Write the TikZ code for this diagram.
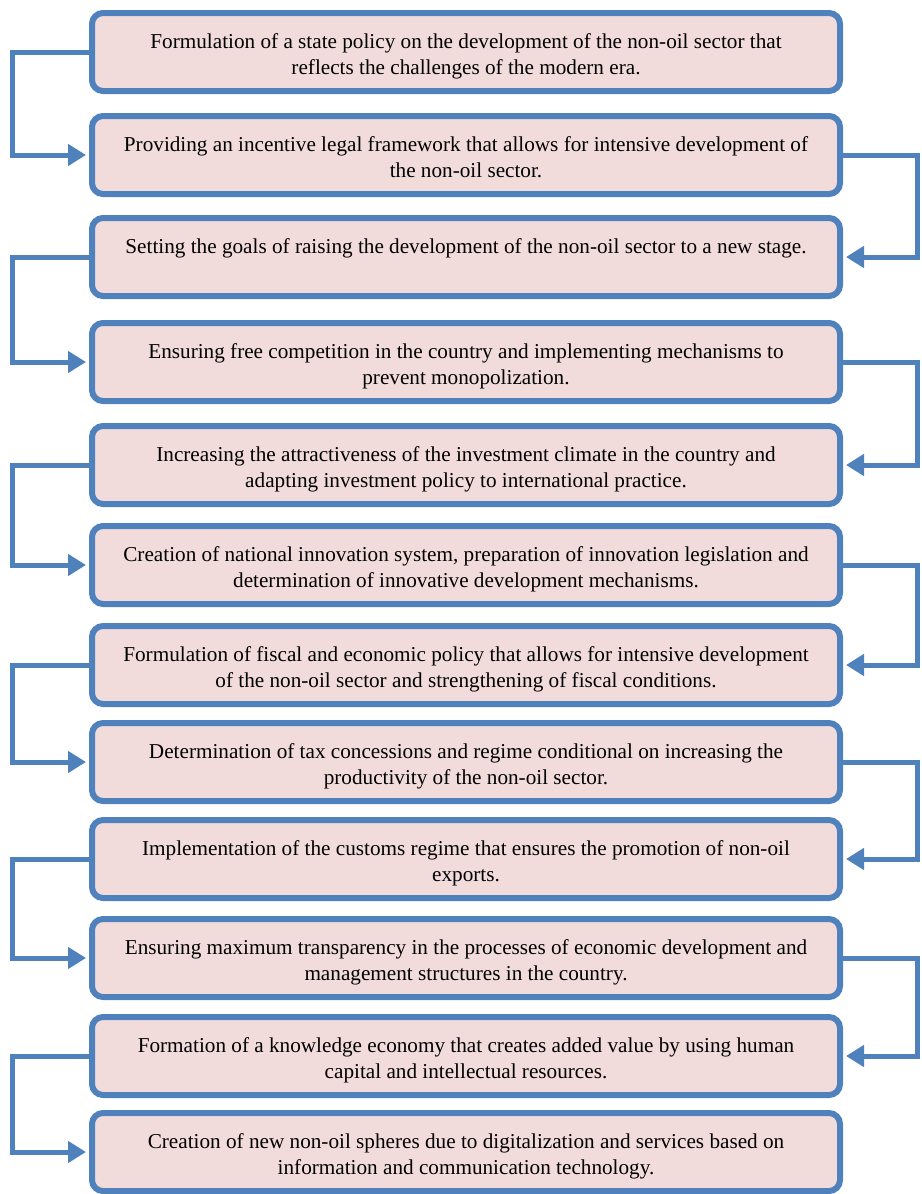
\documentclass[tikz,border=0pt]{standalone}
\usepackage{fontspec}
\setmainfont{Liberation Serif}
\usetikzlibrary{arrows.meta}

\definecolor{stageblue}{HTML}{4F81BD}
\definecolor{stagepink}{HTML}{F2DCDB}

\newcommand{\stagetext}[1]{\parbox[c][78pt][t]{740pt}{\centering
    \fontsize{21.2}{26}\selectfont\rule{0pt}{35pt}#1}}

\begin{document}
\begin{tikzpicture}[x=1pt,y=-1pt]
  \tikzset{stage/.style={draw=stageblue, fill=stagepink, line width=6pt,
      rounded corners=11pt, minimum width=748pt, minimum height=78pt,
      inner sep=0pt}}
  \tikzset{flow/.style={draw=stageblue, line width=5pt,
      -{Triangle[length=18pt,width=21pt]}, shorten >=3pt}}

  \useasboundingbox (0,0) rectangle (921,1194);
  \coordinate (railL) at (12.5,0);
  \coordinate (railR) at (917,0);

  \node[stage] (s1) at (466,52) {\stagetext{Formulation of a state policy on the development of the non-oil sector that\\ reflects the challenges of the modern era.}};
  \node[stage] (s2) at (466,155) {\stagetext{Providing an incentive legal framework that allows for intensive development of\\ the non-oil sector.}};
  \node[stage] (s3) at (466,257) {\stagetext{Setting the goals of raising the development of the non-oil sector to a new stage.}};
  \node[stage] (s4) at (466,362) {\stagetext{Ensuring free competition in the country and implementing mechanisms to\\ prevent monopolization.}};
  \node[stage] (s5) at (466,465) {\stagetext{Increasing the attractiveness of the investment climate in the country and\\ adapting investment policy to international practice.}};
  \node[stage] (s6) at (466,565) {\stagetext{Creation of national innovation system, preparation of innovation legislation and\\ determination of innovative development mechanisms.}};
  \node[stage] (s7) at (466,665) {\stagetext{Formulation of fiscal and economic policy that allows for intensive development\\ of the non-oil sector and strengthening of fiscal conditions.}};
  \node[stage] (s8) at (466,762) {\stagetext{Determination of tax concessions and regime conditional on increasing the\\ productivity of the non-oil sector.}};
  \node[stage] (s9) at (466,859) {\stagetext{Implementation of the customs regime that ensures the promotion of non-oil\\ exports.}};
  \node[stage] (s10) at (466,958) {\stagetext{Ensuring maximum transparency in the processes of economic development and\\ management structures in the country.}};
  \node[stage] (s11) at (466,1056) {\stagetext{Formation of a knowledge economy that creates added value by using human\\ capital and intellectual resources.}};
  \node[stage] (s12) at (466,1152) {\stagetext{Creation of new non-oil spheres due to digitalization and services based on\\ information and communication technology.}};

  \draw[flow] (s1.west) -- (s1.west -| railL) |- (s2.west);
  \draw[flow] (s2.east) -- (s2.east -| railR) |- (s3.east);
  \draw[flow] (s3.west) -- (s3.west -| railL) |- (s4.west);
  \draw[flow] (s4.east) -- (s4.east -| railR) |- (s5.east);
  \draw[flow] (s5.west) -- (s5.west -| railL) |- (s6.west);
  \draw[flow] (s6.east) -- (s6.east -| railR) |- (s7.east);
  \draw[flow] (s7.west) -- (s7.west -| railL) |- (s8.west);
  \draw[flow] (s8.east) -- (s8.east -| railR) |- (s9.east);
  \draw[flow] (s9.west) -- (s9.west -| railL) |- (s10.west);
  \draw[flow] (s10.east) -- (s10.east -| railR) |- (s11.east);
  \draw[flow] (s11.west) -- (s11.west -| railL) |- (s12.west);
\end{tikzpicture}
\end{document}
